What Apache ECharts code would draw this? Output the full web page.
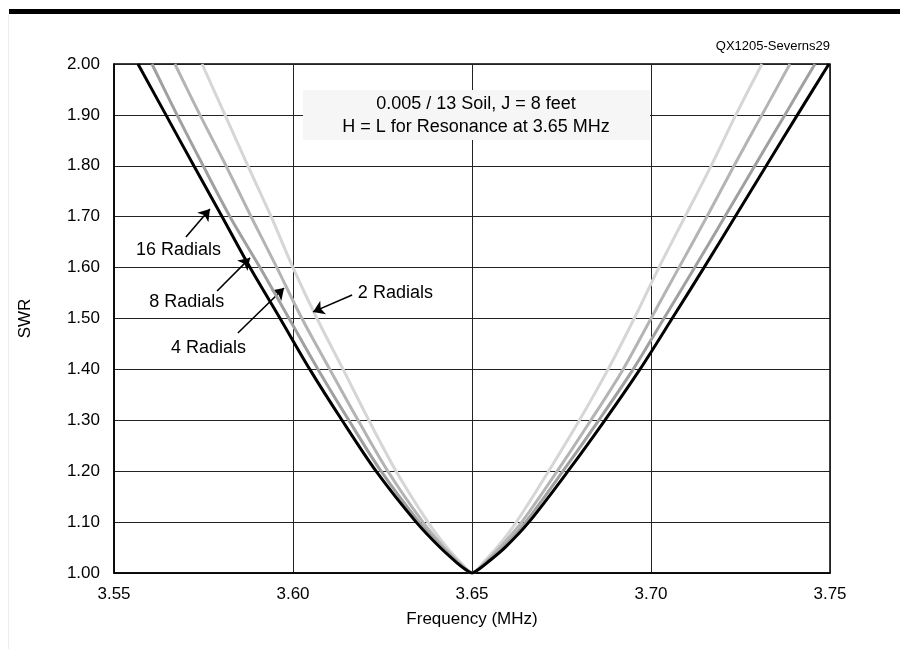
<!DOCTYPE html>
<html><head><meta charset="utf-8">
<script src="https://cdn.jsdelivr.net/npm/echarts@6/dist/echarts.min.js"></script>
<style>html,body{margin:0;padding:0;background:#fff}#c{width:900px;height:649px}</style>
</head><body><div id="c"></div>
<script>
// SWR levels read on each side of the dip (top to bottom)
const swrLevels = [2.00, 1.90, 1.80, 1.70, 1.60, 1.50, 1.40, 1.30, 1.20, 1.10, 1.05, 1.02, 1.008];
const dipFreq = 3.65;
const dipSWR = 1.00;
// Frequencies (MHz) where each curve crosses the SWR levels, left (below resonance) and right (above)
const r16Left  = [3.5567, 3.5645, 3.5723, 3.5802, 3.5880, 3.5964, 3.6047, 3.6137, 3.6232, 3.6344, 3.6411, 3.6458, 3.6480];
const r16Right = [3.7497, 3.7409, 3.7322, 3.7235, 3.7148, 3.7059, 3.6969, 3.6871, 3.6768, 3.6659, 3.6592, 3.6542, 3.6520];
const r8Left   = [3.5606, 3.5676, 3.5749, 3.5824, 3.5908, 3.5989, 3.6070, 3.6156, 3.6246, 3.6352, 3.6416, 3.6461, 3.6481];
const r8Right  = [3.7458, 3.7374, 3.7290, 3.7206, 3.7122, 3.7036, 3.6950, 3.6854, 3.6754, 3.6650, 3.6587, 3.6539, 3.6519];
const r4Left   = [3.5670, 3.5740, 3.5813, 3.5883, 3.5955, 3.6025, 3.6103, 3.6182, 3.6265, 3.6363, 3.6422, 3.6464, 3.6483];
const r4Right  = [3.7388, 3.7310, 3.7232, 3.7156, 3.7078, 3.7000, 3.6922, 3.6832, 3.6738, 3.6639, 3.6578, 3.6536, 3.6518];
const r2Left   = [3.5746, 3.5810, 3.5874, 3.5939, 3.6000, 3.6067, 3.6140, 3.6212, 3.6288, 3.6377, 3.6430, 3.6469, 3.6485];
const r2Right  = [3.7310, 3.7237, 3.7168, 3.7095, 3.7022, 3.6953, 3.6880, 3.6800, 3.6714, 3.6624, 3.6570, 3.6531, 3.6517];

const xTicks = ['3.55', '3.60', '3.65', '3.70', '3.75'];
const yTicks = ['1.00','1.10','1.20','1.30','1.40','1.50','1.60','1.70','1.80','1.90','2.00'];

// Annotation labels and arrows (data coordinates)
const labelNames = ['16 Radials', '8 Radials', '4 Radials', '2 Radials'];
const labelPos = [[3.5680, 1.6346], [3.5703, 1.5324], [3.5764, 1.4420], [3.6286, 1.5501]];
const arrowFrom = [[3.5701, 1.660], [3.5788, 1.554], [3.5846, 1.4715], [3.6165, 1.546]];
const arrowTo   = [[3.5768, 1.715], [3.5880, 1.619], [3.5975, 1.560], [3.6056, 1.513]];

function buildCurve(left, right) {
  const d = [];
  for (let i = 0; i < swrLevels.length; i++) d.push([left[i], swrLevels[i]]);
  d.push([dipFreq, dipSWR]);
  for (let i = swrLevels.length - 1; i >= 0; i--) d.push([right[i], swrLevels[i]]);
  return d;
}

const FONT = '"Liberation Sans", Arial, Helvetica, sans-serif';
const chart = echarts.init(document.getElementById('c'), null, {renderer: 'canvas'});

function curveSeries(name, left, right, color, z) {
  return {
    name: name, type: 'line', data: buildCurve(left, right),
    showSymbol: false, symbol: 'none', smooth: 0.3,
    lineStyle: {color: color, width: 3}, z: z, silent: true, clip: true
  };
}

const annot = {
  type: 'line', data: [], silent: true, z: 20,
  markLine: {
    silent: true, symbol: ['none', 'arrow'], symbolSize: 11, animation: false,
    lineStyle: {color: '#000', width: 1.6, type: 'solid'},
    label: {show: false},
    data: arrowFrom.map((a, i) => [{coord: a}, {coord: arrowTo[i]}])
  },
  markPoint: {
    silent: true, symbol: 'circle', symbolSize: 0, animation: false,
    label: {show: true, position: 'inside', color: '#000', fontSize: 18, fontFamily: FONT,
            formatter: p => p.name},
    data: labelPos.map((p, i) => ({name: labelNames[i], coord: p}))
  }
};

chart.setOption({
  animation: false,
  backgroundColor: '#fff',
  textStyle: {fontFamily: FONT},
  grid: {left: 114, right: 70, top: 64, bottom: 76, show: true, borderColor: '#000', borderWidth: 1.5, backgroundColor: 'transparent'},
  xAxis: {
    type: 'value', min: 3.55, max: 3.75, interval: 0.05,
    name: 'Frequency (MHz)', nameLocation: 'middle', nameGap: 38,
    nameTextStyle: {fontSize: 17, color: '#000', fontFamily: FONT},
    axisLine: {show: true, lineStyle: {color: '#000', width: 1.5}},
    axisTick: {show: false},
    axisLabel: {fontSize: 17, color: '#000', margin: 13, fontFamily: FONT,
      formatter: v => { const s = v.toFixed(2); return xTicks.indexOf(s) >= 0 ? s : ''; }},
    splitLine: {show: true, lineStyle: {color: '#222', width: 1}}
  },
  yAxis: {
    type: 'value', min: 1, max: 2, interval: 0.1,
    name: 'SWR', nameLocation: 'middle', nameGap: 80, nameRotate: 90,
    nameTextStyle: {fontSize: 17, color: '#000', fontFamily: FONT},
    axisLine: {show: true, lineStyle: {color: '#000', width: 1.5}},
    axisTick: {show: false},
    axisLabel: {fontSize: 17, color: '#000', margin: 14, fontFamily: FONT,
      formatter: v => { const s = v.toFixed(2); return yTicks.indexOf(s) >= 0 ? s : ''; }},
    splitLine: {show: true, lineStyle: {color: '#222', width: 1}}
  },
  graphic: [
    {type: 'rect', z: 100, shape: {x: 9, y: 9, width: 891, height: 5}, style: {fill: '#000'}, silent: true},
    {type: 'rect', z: 100, shape: {x: 8, y: 14, width: 1, height: 635}, style: {fill: '#ececec'}, silent: true},
    {type: 'text', z: 100, style: {text: 'QX1205-Severns29', x: 830, y: 46, align: 'right', verticalAlign: 'middle', fill: '#000', font: '13px ' + FONT}},
    {type: 'rect', z: 10, shape: {x: 303, y: 90, width: 347, height: 50}, style: {fill: '#f6f6f6'}, silent: true},
    {type: 'text', z: 11, style: {text: '0.005 / 13 Soil, J = 8 feet', x: 476, y: 104, align: 'center', verticalAlign: 'middle', fill: '#000', font: '18px ' + FONT}},
    {type: 'text', z: 11, style: {text: 'H = L for Resonance at 3.65 MHz', x: 476, y: 127, align: 'center', verticalAlign: 'middle', fill: '#000', font: '18px ' + FONT}}
  ],
  series: [
    curveSeries('2 Radials', r2Left, r2Right, '#d6d6d6', 3),
    curveSeries('4 Radials', r4Left, r4Right, '#b4b4b4', 4),
    curveSeries('8 Radials', r8Left, r8Right, '#a0a0a0', 5),
    curveSeries('16 Radials', r16Left, r16Right, '#000000', 6),
    annot
  ]
});
</script>
</body></html>
